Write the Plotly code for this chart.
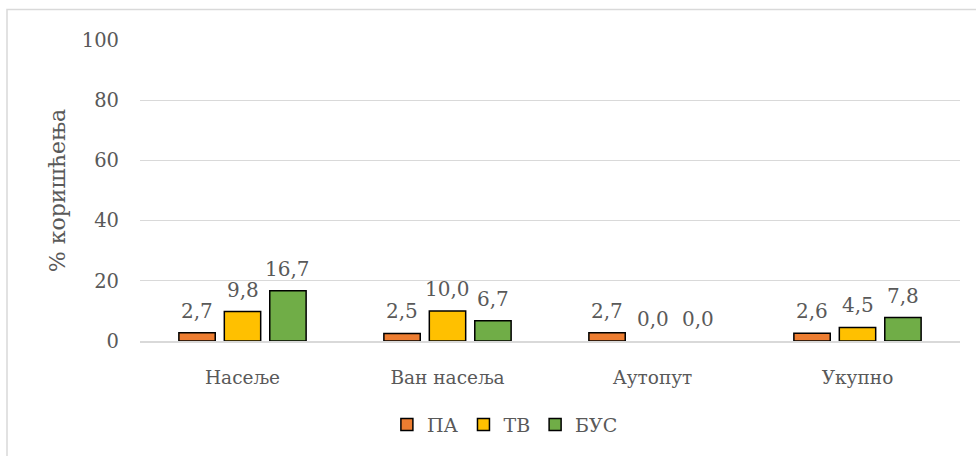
import plotly.graph_objects as go

categories = ["Насеље", "Ван насеља", "Аутопут", "Укупно"]
series_names = ["ПА", "ТВ", "БУС"]
pa_values = [2.7, 2.5, 2.7, 2.6]
tv_values = [9.8, 10.0, 0.0, 4.5]
bus_values = [16.7, 6.7, 0.0, 7.8]
y_ticks = [0, 20, 40, 60, 80, 100]

colors = ["#ED7D31", "#FFC000", "#70AD47"]
FONT = "DejaVu Serif"
TXT = "#595959"

L, R, T, B = 140, 16, 40, 110
W, H = 976, 456
plot_w = W - L - R
n_cat = len(categories)
bargap, bargroupgap = 0.335, 0.2
slot_px = plot_w / n_cat * (1 - bargap) / len(series_names)

fig = go.Figure()
annotations = []
all_series = [pa_values, tv_values, bus_values]
for si, (name, vals, col) in enumerate(zip(series_names, all_series, colors)):
    fig.add_trace(go.Bar(
        x=categories, y=vals, name=name,
        marker=dict(color=col,
                    line=dict(color="#000000", width=[1.5 if v > 0 else 0 for v in vals])),
    ))
    for c, v in zip(categories, vals):
        annotations.append(dict(
            x=c, y=v, xref="x", yref="y", showarrow=False,
            text=f"{v:.1f}".replace(".", ","),
            xshift=(si - 1) * slot_px, yshift=8, yanchor="bottom",
            font=dict(family=FONT, size=20, color=TXT),
        ))

fig.update_layout(
    width=W, height=H,
    margin=dict(l=L, r=R, t=T, b=B),
    paper_bgcolor="white", plot_bgcolor="white",
    separators=",.",
    barmode="group", bargap=bargap, bargroupgap=bargroupgap,
    font=dict(family=FONT, color=TXT, size=19),
    showlegend=True,
    legend=dict(orientation="h", x=0.445, xanchor="center", y=-0.215, yanchor="top",
                font=dict(family=FONT, size=19, color=TXT), itemwidth=30,
                traceorder="normal"),
    xaxis=dict(showgrid=False, showline=True, linecolor="#D9D9D9", linewidth=1.5,
               tickfont=dict(family=FONT, size=18.5, color=TXT), ticks="",
               ticklabelstandoff=19),
    yaxis=dict(range=[0, 100], tickvals=y_ticks, showgrid=True, gridcolor="#D9D9D9",
               gridwidth=1.2, zeroline=False, showline=False,
               tickfont=dict(family=FONT, size=19.5, color=TXT), ticks="",
               ticklabelstandoff=20,
               title=dict(text="% коришћења", font=dict(family=FONT, size=22, color=TXT),
                          standoff=10)),
    annotations=annotations,
    shapes=[dict(type="rect", xref="paper", yref="paper",
                 x0=(7 - L) / plot_w, x1=(985 - L) / plot_w,
                 y0=(H - B - 465) / (H - T - B), y1=1 + (T - 9) / (H - T - B),
                 line=dict(color="#D9D9D9", width=1.5), fillcolor="rgba(0,0,0,0)")],
)

fig.write_html("out.html", config={"displayModeBar": False},
               post_script="document.body.style.margin='0';document.body.style.overflow='hidden';")
